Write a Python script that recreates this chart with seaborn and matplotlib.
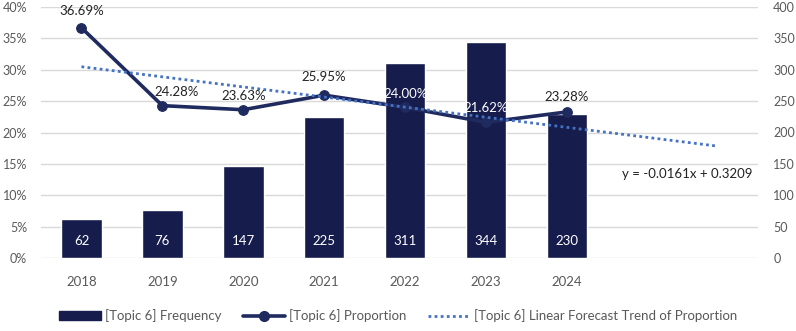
import numpy as np
import pandas as pd
import matplotlib
matplotlib.use("Agg")
import matplotlib.pyplot as plt
from matplotlib.lines import Line2D
from matplotlib.patches import Patch
import seaborn as sns

years = ["2018", "2019", "2020", "2021", "2022", "2023", "2024"]
frequency = [62, 76, 147, 225, 311, 344, 230]
proportion = [0.3669, 0.2428, 0.2363, 0.2595, 0.2400, 0.2162, 0.2328]
trend_slope = -0.0161
trend_intercept = 0.3209
trend_label = "y = -0.0161x + 0.3209"

sns.set_theme(style="white")
plt.rcParams["font.family"] = ["Lato", "DejaVu Sans"]

NAVY = "#161c4c"
LINE = "#1f2a5e"
TREND = "#4472c4"
TXT = "#595959"
DARK = "#222222"
FS = 9.5
TICK_FS = 9

df = pd.DataFrame({"year": years, "freq": frequency, "prop": proportion})
df["pos"] = np.arange(len(years))

fig = plt.figure(figsize=(7.96, 3.31), dpi=100)
ax = fig.add_axes([41 / 796, 1 - 258 / 331, (758 - 41) / 796, 251 / 331])

# frequency bars (right-hand scale)
sns.barplot(data=df, x="year", y="freq", color=NAVY, width=0.5, saturation=1,
            ax=ax, zorder=2)
ax.set_ylim(0, 400)
ax.set_yticks(np.arange(0, 401, 50))
ax.grid(axis="y", color="#d9d9d9", linewidth=1)
ax.set_axisbelow(True)
ax.set_xlim(-0.5, 8.36)
ax.set_xlabel("")
ax.set_ylabel("")
for s in ax.spines.values():
    s.set_visible(False)

for i, v in enumerate(frequency):
    ax.text(i, 27, f"{v}", ha="center", va="center", color="white", fontsize=FS)

# proportion line (left-hand scale)
ax2 = ax.twinx()
ax.yaxis.tick_right()
ax2.yaxis.tick_left()
ax.tick_params(axis="both", length=0, labelsize=TICK_FS, colors=TXT)
ax.tick_params(axis="x", labelsize=FS, pad=13)
ax.tick_params(axis="y", pad=11)

sns.lineplot(data=df, x="pos", y="prop", color=LINE, linewidth=2.6, marker="o",
             markersize=7, markeredgecolor=LINE, ax=ax2, zorder=4)
tx = np.linspace(0, 7.83, 50)
ax2.plot(tx, trend_intercept + trend_slope * (tx + 1), color=TREND,
         linestyle=(0, (1, 1.2)), linewidth=2, zorder=5)
ax2.set_ylim(0, 0.40)
ax2.set_yticks(np.arange(0, 0.401, 0.05))
ax2.set_yticklabels([f"{int(round(t * 100))}%" for t in np.arange(0, 0.401, 0.05)])
ax2.set_xlim(-0.5, 8.36)
ax2.set_xlabel("")
ax2.set_ylabel("")
for s in ax2.spines.values():
    s.set_visible(False)
ax2.tick_params(axis="both", length=0, labelsize=TICK_FS, colors=TXT)
ax2.tick_params(axis="y", pad=10)

# label nudges keep the percentage text clear of the line
label_dx = [0, 10, 0, 0, 0, 0, 0]
label_dy = [12, 10, 10, 13, 10, 10, 11]
for i, p in enumerate(proportion):
    on_bar = frequency[i] / 400 > p / 0.40 + 0.06
    ax2.annotate(f"{p * 100:.2f}%", (i, p), xytext=(label_dx[i], label_dy[i]),
                 textcoords="offset points", ha="center", va="center", fontsize=FS,
                 color="white" if on_bar else DARK, zorder=6)

ax2.text(7.49, 0.134, trend_label, ha="center", va="center", fontsize=FS, color=DARK)

handles = [
    Patch(facecolor=NAVY, edgecolor=NAVY),
    Line2D([0], [0], color=LINE, linewidth=2.6, marker="o", markersize=7),
    Line2D([0], [0], color=TREND, linewidth=2, linestyle=(0, (1, 1.2))),
]
labels = ["[Topic 6] Frequency", "[Topic 6] Proportion",
          "[Topic 6] Linear Forecast Trend of Proportion"]
fig.legend(handles, labels, loc="center", bbox_to_anchor=(0.5, 1 - 316 / 331),
           ncol=3, frameon=False, fontsize=FS, handlelength=3.2, columnspacing=1.6,
           handletextpad=0.3, labelcolor=TXT)

fig.savefig("out.png", dpi=100)
